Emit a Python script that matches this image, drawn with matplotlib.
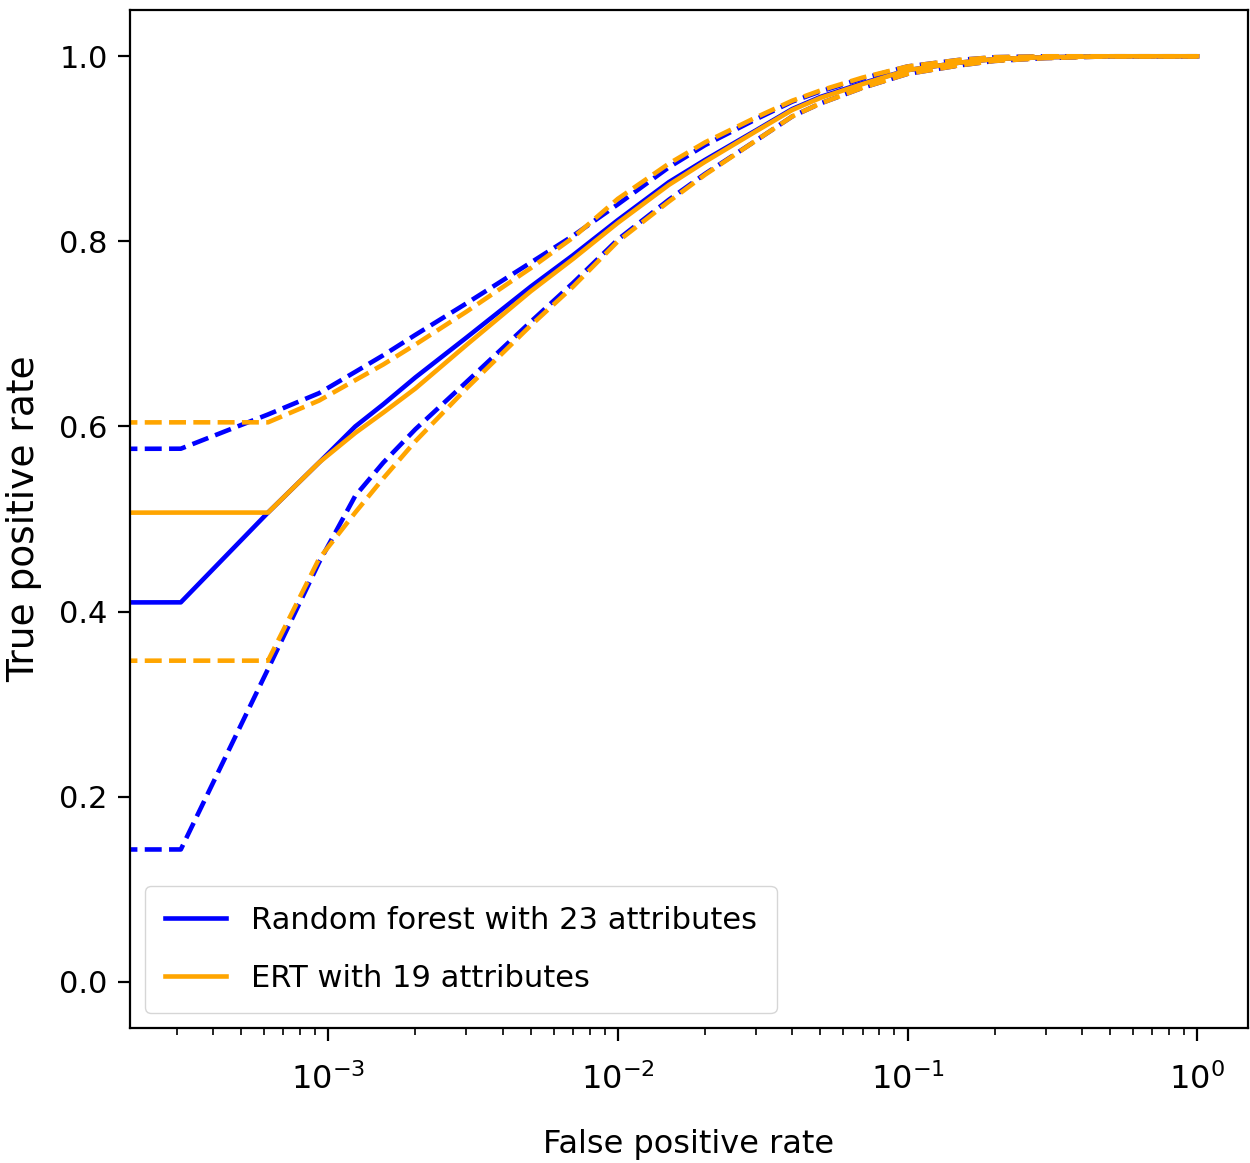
import matplotlib
matplotlib.use("Agg")
import matplotlib.pyplot as plt

# False positive rate grid (first point is fpr = 0, clipped on the log axis)
fpr = [0.0, 3.1e-4, 6.2e-4, 9.3e-4, 1.24e-3, 1.55e-3, 2e-3, 3e-3, 5e-3, 7e-3,
       1e-2, 1.5e-2, 2e-2, 3e-2, 4e-2, 5e-2, 7e-2, 0.1, 0.15, 0.2, 0.3, 0.5, 1.0]

# Random forest with 23 attributes: mean, upper band, lower band
rf_mean = [0.0, 0.410, 0.507, 0.561, 0.600, 0.624, 0.653, 0.696, 0.751, 0.785,
           0.823, 0.864, 0.888, 0.920, 0.943, 0.956, 0.971, 0.985, 0.993, 0.997, 0.999, 1.0, 1.0]
rf_upper = [0.0, 0.576, 0.613, 0.636, 0.659, 0.677, 0.699, 0.733, 0.777, 0.806,
            0.840, 0.880, 0.904, 0.932, 0.951, 0.962, 0.976, 0.989, 0.996, 0.999, 1.0, 1.0, 1.0]
rf_lower = [0.0, 0.143, 0.338, 0.453, 0.525, 0.561, 0.597, 0.648, 0.713, 0.755,
            0.802, 0.845, 0.873, 0.909, 0.935, 0.949, 0.966, 0.981, 0.990, 0.995, 0.998, 1.0, 1.0]

# ERT with 19 attributes: mean, upper band, lower band
ert_mean = [0.0, 0.507, 0.507, 0.561, 0.593, 0.615, 0.641, 0.688, 0.746, 0.781,
            0.820, 0.861, 0.886, 0.919, 0.942, 0.955, 0.970, 0.985, 0.993, 0.997, 0.999, 1.0, 1.0]
ert_upper = [0.0, 0.6045, 0.6045, 0.628, 0.650, 0.667, 0.6885, 0.724, 0.771, 0.804,
             0.846, 0.884, 0.907, 0.934, 0.952, 0.963, 0.977, 0.989, 0.996, 0.999, 1.0, 1.0, 1.0]
ert_lower = [0.0, 0.347, 0.347, 0.457, 0.507, 0.544, 0.584, 0.641, 0.709, 0.751,
             0.800, 0.843, 0.872, 0.909, 0.935, 0.949, 0.966, 0.981, 0.990, 0.995, 0.998, 1.0, 1.0]

labels = ["Random forest with 23 attributes", "ERT with 19 attributes"]
colors = ["blue", "orange"]

plt.rcParams['font.family'] = ['DejaVu Sans']

fig = plt.figure(figsize=(12.5, 11.63), dpi=100)
ax = fig.add_axes([0.104, 0.116, 0.8944, 0.8754])

lw = 3.3
ax.plot(fpr, rf_mean, color=colors[0], lw=lw, label=labels[0])
ax.plot(fpr, rf_upper, color=colors[0], lw=lw, ls='--')
ax.plot(fpr, rf_lower, color=colors[0], lw=lw, ls='--')
ax.plot(fpr, ert_mean, color=colors[1], lw=lw, label=labels[1])
ax.plot(fpr, ert_upper, color=colors[1], lw=lw, ls='--')
ax.plot(fpr, ert_lower, color=colors[1], lw=lw, ls='--')

ax.set_xscale('log')
ax.set_xlabel("False positive rate", fontsize=23, labelpad=24)
ax.set_ylabel("True positive rate", fontsize=27, labelpad=12)

for s in ax.spines.values():
    s.set_linewidth(1.6)
ax.tick_params(axis='both', which='major', length=9, width=1.6)
ax.tick_params(axis='both', which='minor', length=5, width=1.2)
ax.tick_params(axis='x', which='major', labelsize=23, pad=16)
ax.tick_params(axis='y', which='major', labelsize=22, pad=7)

ax.legend(loc='lower left', fontsize=22, labelspacing=0.95, borderpad=0.65,
          handlelength=2.0)

fig.savefig("out.png", dpi=100)
